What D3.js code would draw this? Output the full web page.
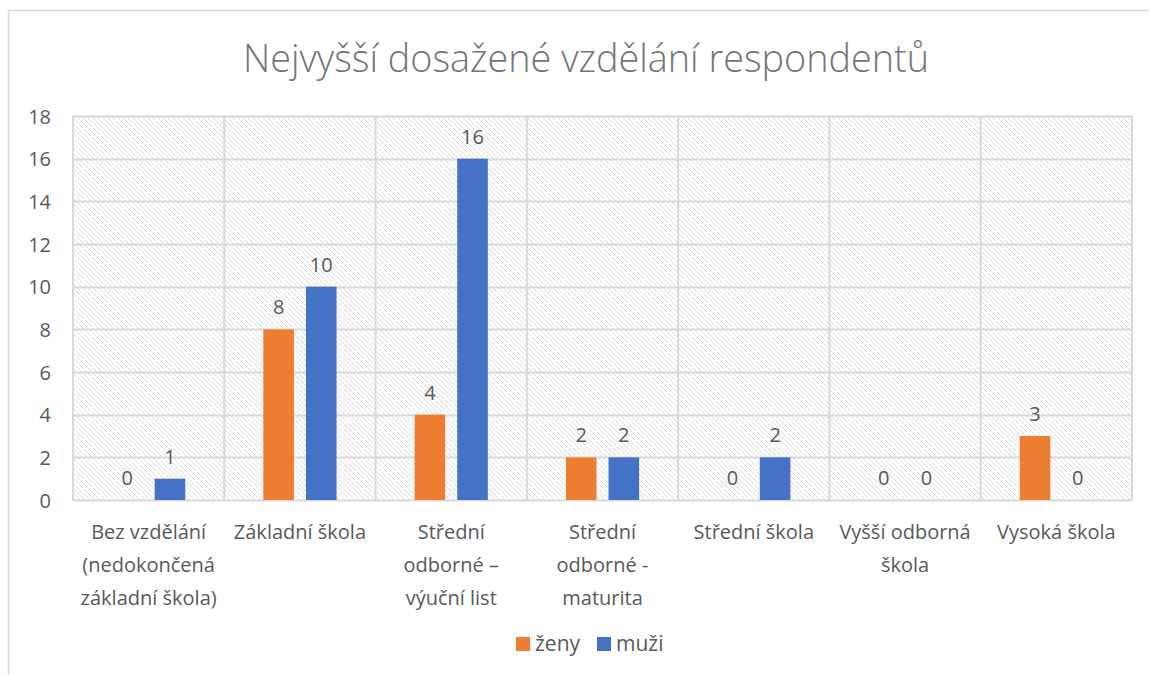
<!DOCTYPE html>
<html><head><meta charset="utf-8">
<script src="https://cdn.jsdelivr.net/npm/d3@7"></script>
<style>body{margin:0;background:#fff;} text{font-family:"Open Sans",sans-serif;}</style>
</head><body>
<svg id="c" width="1149" height="675"></svg>
<script>
const categories = [
  ["Bez vzdělání","(nedokončená","základní škola)"],
  ["Základní škola"],
  ["Střední","odborné –","výuční list"],
  ["Střední","odborné -","maturita"],
  ["Střední škola"],
  ["Vyšší odborná","škola"],
  ["Vysoká škola"]
];
const seriesNames = ["ženy","muži"];
const zeny = [0,8,4,2,0,0,3];
const muzi = [1,10,16,2,2,0,0];
const yTicks = [0,2,4,6,8,10,12,14,16,18];
const colors = ["#ED7D31","#4472C4"];
const title = "Nejvyšší dosažené vzdělání respondentů";

const svg = d3.select("#c");
const W=1149,H=675;
const m = {l:73, r:1132, t:116, b:500};
const textCol = "#595959";

svg.append("rect").attr("x",8.5).attr("y",10.5).attr("width",W+10).attr("height",H+10)
  .attr("fill","none").attr("stroke","#d9d9d9").attr("stroke-width",1.5);

const defs = svg.append("defs");
const pat = defs.append("pattern").attr("id","hatch").attr("patternUnits","userSpaceOnUse")
  .attr("width",5).attr("height",5);
pat.append("path").attr("d","M-1,-1 L6,6 M-1,4 L1,6 M4,-1 L6,1").attr("stroke","#dcdcdc").attr("stroke-width",1);

const x0 = d3.scaleBand().domain(d3.range(categories.length)).range([m.l,m.r]);
const bw = x0.bandwidth();
const x1 = d3.scaleBand().domain(seriesNames).range([bw*0.258, bw*0.742]).paddingInner(0.282);
const y = d3.scaleLinear().domain([0,18]).range([m.b,m.t]);

svg.append("rect").attr("x",m.l).attr("y",m.t).attr("width",m.r-m.l).attr("height",m.b-m.t)
  .attr("fill","url(#hatch)");

svg.append("g").selectAll("line").data(yTicks).join("line")
  .attr("x1",m.l).attr("x2",m.r).attr("y1",d=>Math.round(y(d))+0.5).attr("y2",d=>Math.round(y(d))+0.5)
  .attr("stroke","#d9d9d9").attr("stroke-width",2);
svg.append("g").selectAll("line").data(d3.range(categories.length+1)).join("line")
  .attr("x1",d=>d<categories.length?x0(d):m.r).attr("x2",d=>d<categories.length?x0(d):m.r)
  .attr("y1",m.t).attr("y2",m.b).attr("stroke","#d9d9d9").attr("stroke-width",2);

const yAxis = d3.axisLeft(y).tickValues(yTicks).tickSize(0).tickPadding(0);
const gy = svg.append("g").attr("transform","translate(51,0)").call(yAxis);
gy.select(".domain").remove();
gy.selectAll("text").attr("fill",textCol).style("font-size","20px").attr("dy","0.35em")
  .style("font-family","'Open Sans',sans-serif");

const data = [zeny, muzi];
const g = svg.append("g");
categories.forEach((c,i)=>{
  seriesNames.forEach((s,j)=>{
    const v = data[j][i];
    const bx = x0(i)+x1(s);
    g.append("rect").attr("x",bx).attr("y",y(v)).attr("width",x1.bandwidth()).attr("height",y(0)-y(v))
      .attr("fill",colors[j]);
    g.append("text").attr("x",bx+x1.bandwidth()/2).attr("y",y(v)-22).attr("dy","0.35em")
      .attr("text-anchor","middle").attr("fill",textCol).style("font-size","20px").text(v);
  });
});

categories.forEach((lines,i)=>{
  const t = svg.append("text").attr("x",x0(i)+bw/2).attr("y",539).attr("text-anchor","middle")
    .attr("fill",textCol).style("font-size","20px");
  lines.forEach((l,k)=>t.append("tspan").attr("x",x0(i)+bw/2).attr("y",539+k*33).text(l));
});

svg.append("text").attr("x",586).attr("y",72).attr("text-anchor","middle").attr("fill","#757575")
  .style("font-size","37.8px").style("font-weight","300").text(title);

const lg = svg.append("g");
const items = [{n:"ženy",c:colors[0],x:516},{n:"muži",c:colors[1],x:597}];
items.forEach(it=>{
  lg.append("rect").attr("x",it.x).attr("y",637).attr("width",14).attr("height",14).attr("fill",it.c);
  lg.append("text").attr("x",it.x+19).attr("y",644).attr("dy","0.35em").attr("fill",textCol)
    .style("font-size","21px").text(it.n);
});
</script>
</body></html>
